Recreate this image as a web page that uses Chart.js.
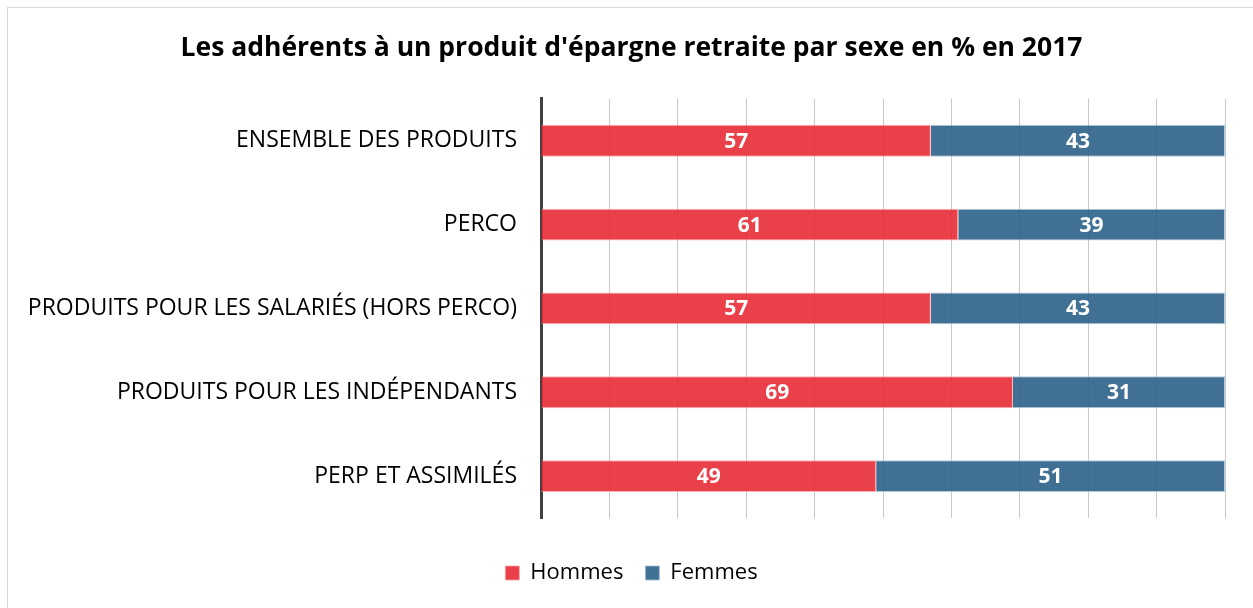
<!DOCTYPE html>
<html><head><meta charset="utf-8">
<script src="https://cdn.jsdelivr.net/npm/chart.js@4/dist/chart.umd.min.js"></script>
<style>
html,body{margin:0;padding:0;background:#fff;}
#wrap{position:relative;width:1253px;height:608px;}
#frame{position:absolute;left:7px;top:7px;right:0;bottom:0;border-top:1px solid #d9d9d9;border-left:1px solid #d9d9d9;pointer-events:none;}
canvas{position:absolute;left:0;top:0;}
</style></head>
<body>
<div id="wrap"><canvas id="c" width="1253" height="608"></canvas><div id="frame"></div></div>
<script>
const categories = ["ENSEMBLE DES PRODUITS","PERCO","PRODUITS POUR LES SALARIÉS (HORS PERCO)","PRODUITS POUR LES INDÉPENDANTS","PERP ET ASSIMILÉS"];
const hommes = [57,61,57,69,49];
const femmes = [43,39,43,31,51];
const titleText = "Les adhérents à un produit d'épargne retraite par sexe en % en 2017";

const valueLabels = {
  id:'valueLabels',
  afterDatasetsDraw(chart){
    const ctx = chart.ctx;
    ctx.save();
    ctx.font = "bold 21px 'Open Sans'";
    ctx.fillStyle = '#fff';
    ctx.textAlign = 'center';
    ctx.textBaseline = 'middle';
    chart.data.datasets.forEach((ds,i)=>{
      chart.getDatasetMeta(i).data.forEach((bar,j)=>{
        const p = bar.getProps(['x','y','base'],true);
        ctx.fillText(String(ds.data[j]), (p.x+p.base)/2, p.y+1);
      });
    });
    ctx.restore();
  }
};

new Chart(document.getElementById('c'),{
  type:'bar',
  data:{
    labels:categories,
    datasets:[
      {label:'Hommes',data:hommes,backgroundColor:'rgba(231,43,53,0.9)',borderColor:'rgba(255,160,165,0.8)',borderWidth:1,barPercentage:0.76,categoryPercentage:0.5},
      {label:'Femmes',data:femmes,backgroundColor:'rgba(44,96,138,0.9)',borderColor:'rgba(160,190,215,0.8)',borderWidth:1,barPercentage:0.76,categoryPercentage:0.5}
    ]
  },
  options:{
    indexAxis:'y',
    responsive:false,
    animation:false,
    layout:{padding:{left:19,right:9,top:10,bottom:14}},
    scales:{
      x:{stacked:true,min:0,max:100,
        afterFit(s){ s.height = 22; },
        ticks:{display:false,stepSize:10},
        grid:{color:'#c8c8c8',lineWidth:1,drawTicks:false},
        border:{display:false}},
      y:{stacked:true,
        afterFit(s){ s.width = 522; },
        ticks:{color:'#000',font:{family:'Open Sans',size:23},padding:24},
        grid:{display:false,drawTicks:false},
        border:{display:true,color:'#404040',width:3}},
      yPad:{type:'category',position:'right',display:true,
        afterFit(s){ s.width = 19; },
        ticks:{display:false},
        grid:{display:false,drawTicks:false},
        border:{display:false}}
    },
    plugins:{
      title:{display:true,text:titleText,color:'#000',font:{family:'Open Sans',size:26.5,weight:'bold'},padding:{top:23,bottom:34}},
      legend:{position:'bottom',labels:{color:'#000',font:{family:'Open Sans',size:22},boxWidth:14,boxHeight:14,padding:22}},
      tooltip:{enabled:false}
    }
  },
  plugins:[valueLabels]
});
</script>
</body></html>
